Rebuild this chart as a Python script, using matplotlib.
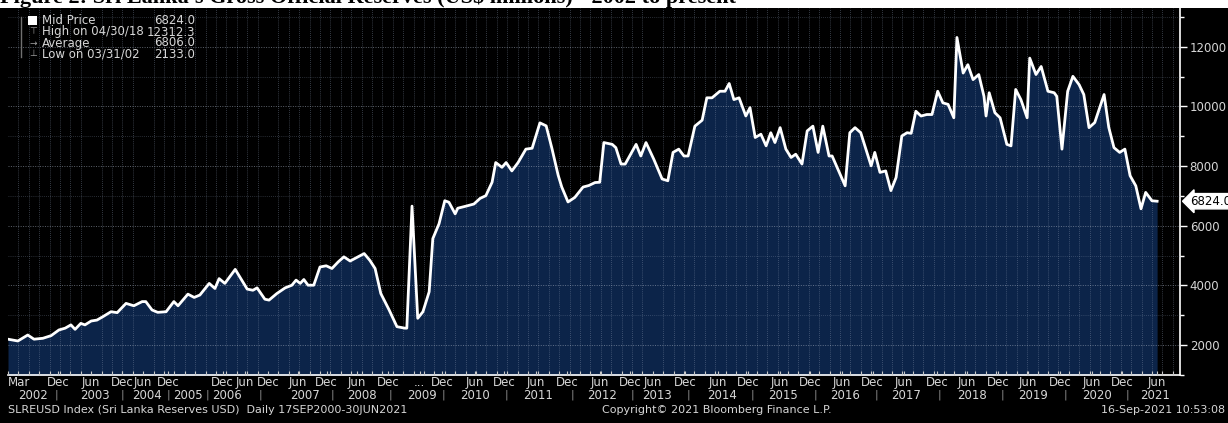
import numpy as np
import matplotlib.pyplot as plt
import matplotlib.transforms as mtransforms
from matplotlib.patches import Rectangle

# Sri Lanka reserves (USD mn), digitised from the Bloomberg screen.
# x = observation number on Bloomberg's (gap-compressed) time axis, Mar 2002 = 0
obs = [0, 1.9, 3.8, 5.0, 6.7, 8.3, 9.8, 11.0, 12.1, 12.9,
       14.0, 14.8, 16.0, 17.1, 18.3, 19.8, 21.0, 22.7, 24.2, 25.8,
       26.5, 27.7, 28.8, 30.4, 31.9, 32.7, 34.6, 35.8, 36.9, 38.7,
       39.8, 40.6, 41.7, 43.7, 46.0, 47.1, 47.9, 49.4, 50.2, 51.7,
       53.3, 54.6, 55.4, 56.2, 56.9, 57.7, 58.8, 60.0, 61.2, 62.3,
       63.5, 64.6, 65.8, 67.3, 68.5, 69.6, 70.6, 71.7, 73.3, 74.8,
       76.3, 76.7, 77.7, 78.8, 79.8, 81.0, 81.7, 82.9, 84.0, 84.8,
       86.0, 86.5, 88.1, 89.6, 90.8, 91.9, 93.1, 93.8, 95.0, 95.8,
       96.9, 98.1, 99.6, 100.8, 102.3, 103.5, 104.6, 105.8, 106.5, 107.7,
       109.0, 110.6, 111.7, 112.9, 113.8, 114.6, 116.2, 116.9, 117.9, 118.7,
       120.8, 121.7, 122.7, 124.2, 125.8, 126.9, 127.9, 129.0, 130.0, 130.8,
       132.1, 133.5, 134.4, 135.4, 136.9, 137.9, 138.7, 139.6, 140.6, 141.9,
       142.7, 143.7, 144.8, 145.8, 146.7, 147.5, 148.5, 149.6, 150.6, 151.5,
       152.7, 153.7, 154.8, 155.8, 156.7, 157.9, 158.5, 159.6, 161.0, 161.9,
       162.9, 164.0, 165.4, 166.0, 166.7, 167.7, 168.8, 169.8, 170.8, 171.9,
       172.9, 173.7, 174.6, 175.6, 176.7, 177.7, 178.8, 179.8, 180.8, 181.9,
       182.5, 183.7, 184.6, 185.6, 186.7, 187.7, 188.1, 188.7, 189.8, 190.8,
       192.1, 192.9, 193.8, 194.8, 196.0, 196.5, 197.7, 198.7, 200.0, 201.2,
       201.7, 202.7, 203.8, 204.8, 206.0, 206.9, 207.9, 209.0, 210.8, 211.7,
       212.7, 213.8, 214.8, 215.8, 216.9, 217.9, 218.8, 220.0, 221.0]
reserves = [2200, 2140, 2340, 2200, 2230, 2320, 2510, 2570, 2680, 2530,
            2730, 2680, 2810, 2840, 2960, 3120, 3090, 3400, 3320, 3460,
            3460, 3180, 3100, 3120, 3460, 3320, 3710, 3600, 3680, 4070,
            3900, 4230, 4070, 4540, 3880, 3840, 3920, 3540, 3510, 3730,
            3920, 4010, 4180, 4070, 4200, 4010, 4010, 4620, 4660, 4570,
            4790, 4960, 4820, 4960, 5070, 4840, 4570, 3730, 3180, 2620,
            2570, 2570, 6660, 2900, 3120, 3790, 5570, 6070, 6840, 6790,
            6400, 6590, 6660, 6730, 6920, 7010, 7460, 8120, 7960, 8120,
            7840, 8120, 8570, 8600, 9450, 9350, 8600, 7700, 7300, 6800,
            6950, 7300, 7350, 7450, 7460, 8790, 8730, 8620, 8070, 8070,
            8730, 8340, 8790, 8230, 7570, 7510, 8460, 8570, 8340, 8340,
            9340, 9540, 10290, 10290, 10510, 10510, 10770, 10230, 10290, 9680,
            9960, 8960, 9070, 8680, 9120, 8790, 9290, 8570, 8290, 8400,
            8070, 9180, 9340, 8460, 9340, 8340, 8340, 7900, 7340, 9120,
            9290, 9120, 8340, 8010, 8460, 7790, 7840, 7180, 7620, 9010,
            9120, 9100, 9840, 9680, 9730, 9730, 10510, 10120, 10070, 9620,
            12312, 11120, 11400, 10900, 11070, 10340, 9680, 10460, 9790, 9620,
            8730, 8680, 10570, 10230, 9620, 11620, 11070, 11340, 10510, 10460,
            10340, 8570, 10510, 11010, 10730, 10400, 9290, 9460, 10400, 9300,
            8620, 8460, 8570, 7680, 7340, 6570, 7120, 6840, 6824]

month_ticks = [0, 9.6, 16.0, 21.9, 26.0, 30.8, 41.3, 45.6, 50.0, 55.8, 61.3, 67.1,
               73.1, 79.2, 83.5, 89.8, 95.4, 101.5, 107.5, 113.8, 119.6, 124.0,
               130.2, 136.5, 142.3, 148.5, 154.2, 160.4, 166.3, 172.3, 178.7,
               184.4, 190.4, 196.2, 202.3, 208.5, 214.2, 221.0]
month_labels = ['Mar', 'Dec', 'Jun', 'Dec', 'Jun', 'Dec', 'Dec', 'Jun', 'Dec', 'Jun',
                'Dec', 'Jun', 'Dec', '...', 'Dec', 'Jun', 'Dec', 'Jun', 'Dec', 'Jun',
                'Dec', 'Jun', 'Dec', 'Jun', 'Dec', 'Jun', 'Dec', 'Jun', 'Dec', 'Jun',
                'Dec', 'Jun', 'Dec', 'Jun', 'Dec', 'Jun', 'Dec', 'Jun']
year_pos = [4.8, 16.7, 26.7, 34.6, 42.1, 57.1, 68.1, 79.6, 89.8, 101.9, 114.2,
            124.8, 137.3, 149.0, 161.0, 172.7, 185.4, 197.1, 209.4, 220.6]
year_labels = [str(y) for y in range(2002, 2022)]
year_breaks = [9.4, 22.1, 30.8, 38.3, 48.5, 62.3, 73.5, 83.7, 95.9, 108.5, 120.0,
               130.8, 143.1, 155.2, 167.1, 179.2, 191.3, 203.3, 215.2]

y_ticks = [2000, 4000, 6000, 8000, 10000, 12000]
last_price = 6824.0
legend_names = ['Mid Price', 'High on 04/30/18', 'Average', 'Low on 03/31/02']
legend_values = ['6824.0', '12312.3', '6806.0', '2133.0']

W, H = 1228, 423
bb_font = ['Liberation Sans Narrow', 'DejaVu Sans']
txt_col = '#d6d6d6'

fig = plt.figure(figsize=(W / 100, H / 100), dpi=100, facecolor='black')

# white strip at the very top with the cut-off caption
fig.add_artist(Rectangle((0, 415 / H), 1, 8 / H, transform=fig.transFigure,
                         facecolor='white', edgecolor='none', zorder=0))
fig.text(0.0, 419.5 / H, "Figure 2: Sri Lanka's Gross Official Reserves (US$ millions) - 2002 to present",
         family=['Liberation Serif', 'DejaVu Serif'], fontweight='bold', fontsize=16,
         color='black', va='baseline', ha='left')

ax = fig.add_axes([8 / W, 48 / H, 1172 / W, 367 / H])
ax.set_facecolor('black')

ax.fill_between(obs, reserves, 0, color='#0c2449', lw=0, zorder=1)
ax.plot(obs, reserves, color='white', lw=2.0, zorder=3, solid_joinstyle='round')

ax.set_xlim(0, 225.4)
ax.set_ylim(1067, 13300)

# axes, ticks, grid
ax.yaxis.tick_right()
ax.set_yticks(y_ticks)
ax.set_yticks(np.arange(1000, 13001, 1000), minor=True)
ax.set_yticklabels([str(v) for v in y_ticks], color=txt_col, fontsize=8.5, family=bb_font)
ax.set_xticks(month_ticks)
ax.set_xticklabels([])
ax.set_xticks(np.arange(0, 225, 2), minor=True)
ax.tick_params(axis='y', which='major', direction='out', length=5, width=1, color='white', pad=2)
ax.tick_params(axis='y', which='minor', direction='out', length=3, width=1, color='white')
ax.tick_params(axis='x', which='both', direction='in', length=3, width=0.8, color='#c8c8c8')

ax.set_axisbelow(False)
ax.grid(True, which='minor', axis='x', color='#8a98b0', lw=0.6, ls=(0, (1, 1.5)), alpha=0.5)
ax.grid(True, which='minor', axis='y', color='#8a98b0', lw=0.6, ls=(0, (1, 1.5)), alpha=0.4)
ax.grid(True, which='major', axis='y', color='#a8b2c2', lw=0.7, ls=(0, (1, 1.5)), alpha=0.55)

for side in ['left', 'top']:
    ax.spines[side].set_visible(False)
for side in ['right', 'bottom']:
    ax.spines[side].set_color('white')
    ax.spines[side].set_linewidth(1.2)

# last price tag on the right axis
ax.text(1.009, last_price, '6824.0', transform=ax.get_yaxis_transform(), clip_on=False,
        va='center', ha='left', color='black', fontsize=8.5, family=bb_font,
        bbox=dict(boxstyle='larrow,pad=0.1', fc='white', ec='white'))

# two-row date axis
xfig = mtransforms.blended_transform_factory(ax.transData, fig.transFigure)
for pos, lab in zip(month_ticks, month_labels):
    ha = 'left' if pos == 0 else 'center'
    ax.text(pos, 41 / H, lab, transform=xfig, ha=ha, va='center', color=txt_col,
            fontsize=8.5, family=bb_font, clip_on=False)
for pos, lab in zip(year_pos, year_labels):
    ax.text(pos, 28 / H, lab, transform=xfig, ha='center', va='center', color=txt_col,
            fontsize=8.5, family=bb_font, clip_on=False)
for pos in year_breaks:
    ax.text(pos, 28 / H, '|', transform=xfig, ha='center', va='center', color='#909090',
            fontsize=8, family=bb_font, clip_on=False)

# legend block, top-left
rows_y = [402, 391, 380, 369]
fig.add_artist(Rectangle((28 / W, (rows_y[0] - 4) / H), 9 / W, 9 / H, transform=fig.transFigure,
                         facecolor='white', edgecolor='none'))
fig.add_artist(plt.Line2D([21 / W, 21 / W], [(rows_y[3] - 3) / H, (rows_y[0] + 4) / H],
                          transform=fig.transFigure, color='#707070', lw=1))
for sym, yy in zip(['⊤', '→', '⊥'], rows_y[1:]):
    fig.text(33 / W, yy / H, sym, color='#a0a0a0', fontsize=6.5, ha='center', va='center')
for name, val, yy in zip(legend_names, legend_values, rows_y):
    fig.text(42 / W, yy / H, name, color=txt_col, fontsize=8.5, family=bb_font, va='center')
    fig.text(195 / W, yy / H, val, color=txt_col, fontsize=8.5, family=bb_font,
             va='center', ha='right')

# footer
fig.text(8 / W, 13 / H, 'SLREUSD Index (Sri Lanka Reserves USD)  Daily 17SEP2000-30JUN2021',
         color=txt_col, fontsize=8, family=bb_font, va='center')
fig.text(717 / W, 13 / H, 'Copyright\u00a9 2021 Bloomberg Finance L.P.',
         color=txt_col, fontsize=8, family=bb_font, va='center', ha='center')
fig.text(1225 / W, 13 / H, '16-Sep-2021 10:53:08',
         color=txt_col, fontsize=8, family=bb_font, va='center', ha='right')

fig.savefig('out.png', dpi=100, facecolor='black')
